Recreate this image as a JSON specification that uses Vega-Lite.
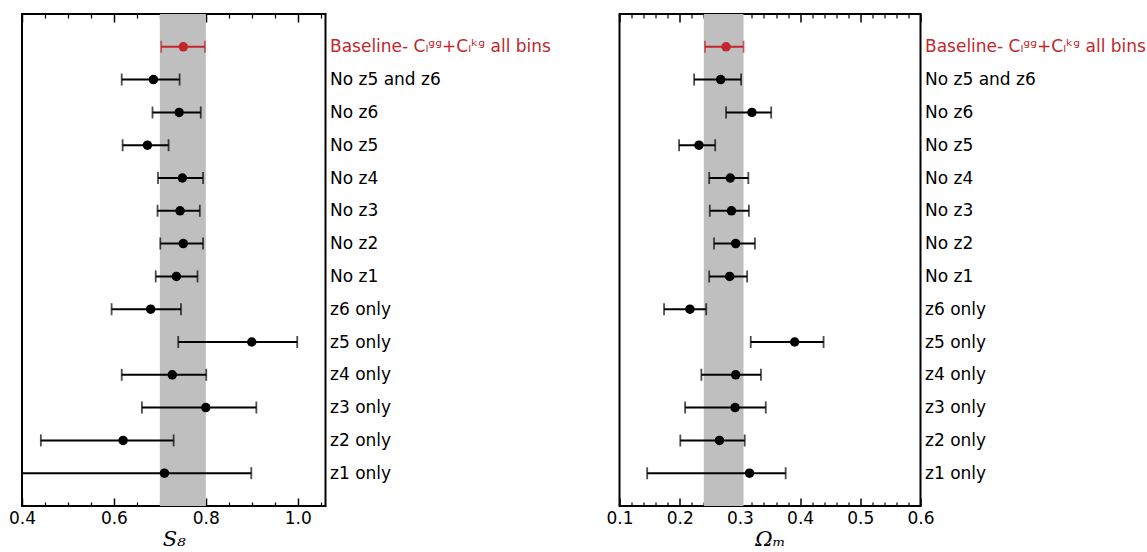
{
  "$schema": "https://vega.github.io/schema/vega-lite/v6.json",
  "padding": {"left": 7, "top": 12, "right": 0, "bottom": 0},
  "bounds": "flush",
  "spacing": 293.5,
  "background": "white",
  "config": {
    "view": {"stroke": "black", "strokeWidth": 2},
    "font": "DejaVu Sans",
    "axis": {"labelFont": "DejaVu Sans", "labelFontSize": 17, "labelColor": "black", "tickColor": "black", "domain": false, "grid": false, "labelLimit": 500, "labelFlush": false}
  },
  "datasets": {
    "rows": [
      {"label": "Baseline- Cₗᵍᵍ+Cₗᵏᵍ all bins", "kind": "baseline", "s8": 0.751, "s8lo": 0.703, "s8hi": 0.798, "om": 0.277, "omlo": 0.242, "omhi": 0.306},
      {"label": "No z5 and z6", "kind": "other", "s8": 0.686, "s8lo": 0.617, "s8hi": 0.743, "om": 0.268, "omlo": 0.224, "omhi": 0.302},
      {"label": "No z6", "kind": "other", "s8": 0.742, "s8lo": 0.684, "s8hi": 0.789, "om": 0.320, "omlo": 0.277, "omhi": 0.352},
      {"label": "No z5", "kind": "other", "s8": 0.673, "s8lo": 0.619, "s8hi": 0.719, "om": 0.232, "omlo": 0.199, "omhi": 0.259},
      {"label": "No z4", "kind": "other", "s8": 0.749, "s8lo": 0.696, "s8hi": 0.794, "om": 0.284, "omlo": 0.249, "omhi": 0.314},
      {"label": "No z3", "kind": "other", "s8": 0.744, "s8lo": 0.695, "s8hi": 0.787, "om": 0.286, "omlo": 0.250, "omhi": 0.315},
      {"label": "No z2", "kind": "other", "s8": 0.751, "s8lo": 0.701, "s8hi": 0.794, "om": 0.293, "omlo": 0.257, "omhi": 0.325},
      {"label": "No z1", "kind": "other", "s8": 0.736, "s8lo": 0.691, "s8hi": 0.782, "om": 0.283, "omlo": 0.249, "omhi": 0.312},
      {"label": "z6 only", "kind": "other", "s8": 0.680, "s8lo": 0.595, "s8hi": 0.746, "om": 0.217, "omlo": 0.174, "omhi": 0.244},
      {"label": "z5 only", "kind": "other", "s8": 0.900, "s8lo": 0.740, "s8hi": 0.999, "om": 0.391, "omlo": 0.318, "omhi": 0.439},
      {"label": "z4 only", "kind": "other", "s8": 0.727, "s8lo": 0.617, "s8hi": 0.801, "om": 0.293, "omlo": 0.236, "omhi": 0.335},
      {"label": "z3 only", "kind": "other", "s8": 0.800, "s8lo": 0.661, "s8hi": 0.910, "om": 0.292, "omlo": 0.209, "omhi": 0.343},
      {"label": "z2 only", "kind": "other", "s8": 0.620, "s8lo": 0.441, "s8hi": 0.730, "om": 0.266, "omlo": 0.201, "omhi": 0.308},
      {"label": "z1 only", "kind": "other", "s8": 0.710, "s8lo": 0.340, "s8hi": 0.899, "om": 0.316, "omlo": 0.146, "omhi": 0.376}
    ],
    "bands": [
      {"s8lo": 0.7, "s8hi": 0.8, "omlo": 0.24, "omhi": 0.306}
    ]
  },
  "hconcat": [
    {
      "width": 303.5,
      "height": 492,
      "resolve": {"axis": {"x": "independent"}},
      "layer": [
        {
          "data": {"name": "bands"},
          "mark": {"type": "rect", "color": "#bfbfbf"},
          "encoding": {
            "x": {"field": "s8lo", "type": "quantitative",
                  "scale": {"domain": [0.4, 1.0605], "nice": false, "zero": false},
                  "axis": {"orient": "bottom", "values": [0.4, 0.6, 0.8, 1.0], "format": ".1f", "tickSize": -8, "tickWidth": 1.5, "labelPadding": 12,
                           "title": "S₈", "titleFont": "DejaVu Serif", "titleFontStyle": "italic", "titleFontWeight": "normal", "titleFontSize": 21, "titlePadding": 2}},
            "x2": {"field": "s8hi"}
          }
        },
        {
          "data": {"name": "rows"},
          "mark": {"type": "rule", "strokeWidth": 2, "clip": true},
          "encoding": {
            "y": {"field": "label", "type": "nominal", "sort": null,
                  "scale": {"type": "point", "padding": 1},
                  "axis": {"orient": "right", "ticks": false, "title": null, "labelPadding": 4,
                           "labelColor": {"condition": {"test": "indexof(datum.value, 'Baseline') == 0", "value": "#c1272d"}, "value": "black"}}},
            "x": {"field": "s8lo", "type": "quantitative",
                  "axis": {"orient": "bottom", "values": [0.45, 0.5, 0.55, 0.65, 0.7, 0.75, 0.85, 0.9, 0.95, 1.05], "labels": false, "tickSize": -4, "tickWidth": 1.2, "title": null}},
            "x2": {"field": "s8hi"},
            "color": {"field": "kind", "type": "nominal", "scale": {"domain": ["baseline", "other"], "range": ["#c1272d", "black"]}, "legend": null}
          }
        },
        {
          "data": {"name": "rows"},
          "mark": {"type": "tick", "thickness": 1.8, "size": 12, "clip": true},
          "encoding": {
            "y": {"field": "label", "type": "nominal", "sort": null},
            "x": {"field": "s8lo", "type": "quantitative",
                  "axis": {"orient": "top", "values": [0.4, 0.6, 0.8, 1.0], "labels": false, "tickSize": -8, "tickWidth": 1.5, "title": null}},
            "color": {"field": "kind", "type": "nominal", "legend": null}
          }
        },
        {
          "data": {"name": "rows"},
          "mark": {"type": "tick", "thickness": 1.8, "size": 12, "clip": true},
          "encoding": {
            "y": {"field": "label", "type": "nominal", "sort": null},
            "x": {"field": "s8hi", "type": "quantitative",
                  "axis": {"orient": "top", "values": [0.45, 0.5, 0.55, 0.65, 0.7, 0.75, 0.85, 0.9, 0.95, 1.05], "labels": false, "tickSize": -4, "tickWidth": 1.2, "title": null}},
            "color": {"field": "kind", "type": "nominal", "legend": null}
          }
        },
        {
          "data": {"name": "rows"},
          "mark": {"type": "point", "filled": true, "opacity": 1, "size": 90},
          "encoding": {
            "y": {"field": "label", "type": "nominal", "sort": null},
            "x": {"field": "s8", "type": "quantitative", "axis": null},
            "color": {"field": "kind", "type": "nominal", "legend": null}
          }
        }
      ]
    },
    {
      "width": 301,
      "height": 492,
      "resolve": {"axis": {"x": "independent"}},
      "layer": [
        {
          "data": {"name": "bands"},
          "mark": {"type": "rect", "color": "#bfbfbf"},
          "encoding": {
            "x": {"field": "omlo", "type": "quantitative",
                  "scale": {"domain": [0.1, 0.6], "nice": false, "zero": false},
                  "axis": {"orient": "bottom", "values": [0.1, 0.2, 0.3, 0.4, 0.5, 0.6], "format": ".1f", "tickSize": -8, "tickWidth": 1.5, "labelPadding": 12,
                           "title": "Ωₘ", "titleFont": "DejaVu Serif", "titleFontStyle": "italic", "titleFontWeight": "normal", "titleFontSize": 21, "titlePadding": 2}},
            "x2": {"field": "omhi"}
          }
        },
        {
          "data": {"name": "rows"},
          "mark": {"type": "rule", "strokeWidth": 2, "clip": true},
          "encoding": {
            "y": {"field": "label", "type": "nominal", "sort": null,
                  "scale": {"type": "point", "padding": 1},
                  "axis": {"orient": "right", "ticks": false, "title": null, "labelPadding": 4,
                           "labelColor": {"condition": {"test": "indexof(datum.value, 'Baseline') == 0", "value": "#c1272d"}, "value": "black"}}},
            "x": {"field": "omlo", "type": "quantitative",
                  "axis": {"orient": "bottom", "values": [0.12, 0.14, 0.16, 0.18, 0.22, 0.24, 0.26, 0.28, 0.32, 0.34, 0.36, 0.38, 0.42, 0.44, 0.46, 0.48, 0.52, 0.54, 0.56, 0.58], "labels": false, "tickSize": -4, "tickWidth": 1.2, "title": null}},
            "x2": {"field": "omhi"},
            "color": {"field": "kind", "type": "nominal", "scale": {"domain": ["baseline", "other"], "range": ["#c1272d", "black"]}, "legend": null}
          }
        },
        {
          "data": {"name": "rows"},
          "mark": {"type": "tick", "thickness": 1.8, "size": 12, "clip": true},
          "encoding": {
            "y": {"field": "label", "type": "nominal", "sort": null},
            "x": {"field": "omlo", "type": "quantitative",
                  "axis": {"orient": "top", "values": [0.1, 0.2, 0.3, 0.4, 0.5, 0.6], "labels": false, "tickSize": -8, "tickWidth": 1.5, "title": null}},
            "color": {"field": "kind", "type": "nominal", "legend": null}
          }
        },
        {
          "data": {"name": "rows"},
          "mark": {"type": "tick", "thickness": 1.8, "size": 12, "clip": true},
          "encoding": {
            "y": {"field": "label", "type": "nominal", "sort": null},
            "x": {"field": "omhi", "type": "quantitative",
                  "axis": {"orient": "top", "values": [0.12, 0.14, 0.16, 0.18, 0.22, 0.24, 0.26, 0.28, 0.32, 0.34, 0.36, 0.38, 0.42, 0.44, 0.46, 0.48, 0.52, 0.54, 0.56, 0.58], "labels": false, "tickSize": -4, "tickWidth": 1.2, "title": null}},
            "color": {"field": "kind", "type": "nominal", "legend": null}
          }
        },
        {
          "data": {"name": "rows"},
          "mark": {"type": "point", "filled": true, "opacity": 1, "size": 90},
          "encoding": {
            "y": {"field": "label", "type": "nominal", "sort": null},
            "x": {"field": "om", "type": "quantitative", "axis": null},
            "color": {"field": "kind", "type": "nominal", "legend": null}
          }
        }
      ]
    }
  ]
}
